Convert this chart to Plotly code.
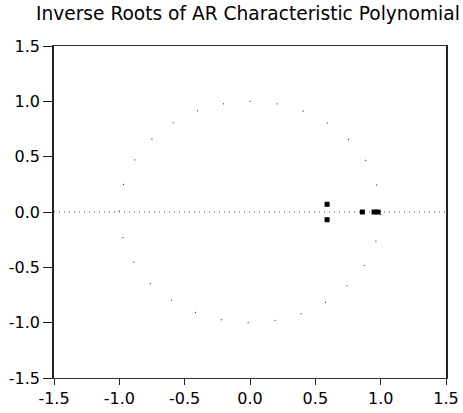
import numpy as np
import plotly.graph_objects as go

title_text = "Inverse Roots of AR Characteristic Polynomial"
tick_vals = [-1.5, -1.0, -0.5, 0.0, 0.5, 1.0, 1.5]
tick_text = ["-1.5", "-1.0", "-0.5", "0.0", "0.5", "1.0", "1.5"]

# inverse roots (real, imaginary)
root_re = [0.59, 0.59, 0.86, 0.95, 0.98]
root_im = [0.07, -0.07, 0.0, 0.0, 0.0]

theta = np.linspace(0, 2 * np.pi, 361)
circle_x = np.cos(theta)
circle_y = np.sin(theta)

fig = go.Figure()
fig.add_trace(go.Scatter(x=circle_x, y=circle_y, mode="lines",
                         line=dict(color="#333", width=1.2, dash="1px,26px"),
                         hoverinfo="skip"))
fig.add_trace(go.Scatter(x=[-1.5, 1.5], y=[0, 0], mode="lines",
                         line=dict(color="#555", width=1, dash="1px,4px"),
                         hoverinfo="skip"))
fig.add_trace(go.Scatter(x=root_re, y=root_im, mode="markers",
                         marker=dict(color="black", size=5, symbol="square"),
                         hoverinfo="skip"))

tickfont = dict(family="DejaVu Sans", size=16, color="black")
fig.update_layout(
    width=463, height=413,
    margin=dict(l=54, r=17, t=46, b=35, autoexpand=False),
    paper_bgcolor="white", plot_bgcolor="white",
    showlegend=False,
    hovermode=False,
    title=dict(text=title_text, x=36 / 463, xanchor="left", y=0.968, yanchor="middle",
               automargin=False,
               font=dict(family="DejaVu Sans", size=18.6, color="black")),
    xaxis=dict(range=[-1.5, 1.5], tickvals=tick_vals, ticktext=tick_text,
               showgrid=False, zeroline=False, showline=True, mirror=True,
               linecolor="#333", linewidth=1.3, ticks="outside", ticklen=6,
               tickcolor="#222", tickfont=tickfont, automargin=False),
    yaxis=dict(range=[-1.5, 1.5], tickvals=tick_vals, ticktext=tick_text,
               showgrid=False, zeroline=False, showline=True, mirror=True,
               linecolor="#222", linewidth=1.5, ticks="outside", ticklen=9,
               tickcolor="#222", tickfont=tickfont, automargin=False),
)
fig.write_html("out.html", config={"displayModeBar": False},
               post_script="document.body.style.margin='0';document.body.style.overflow='hidden';")
